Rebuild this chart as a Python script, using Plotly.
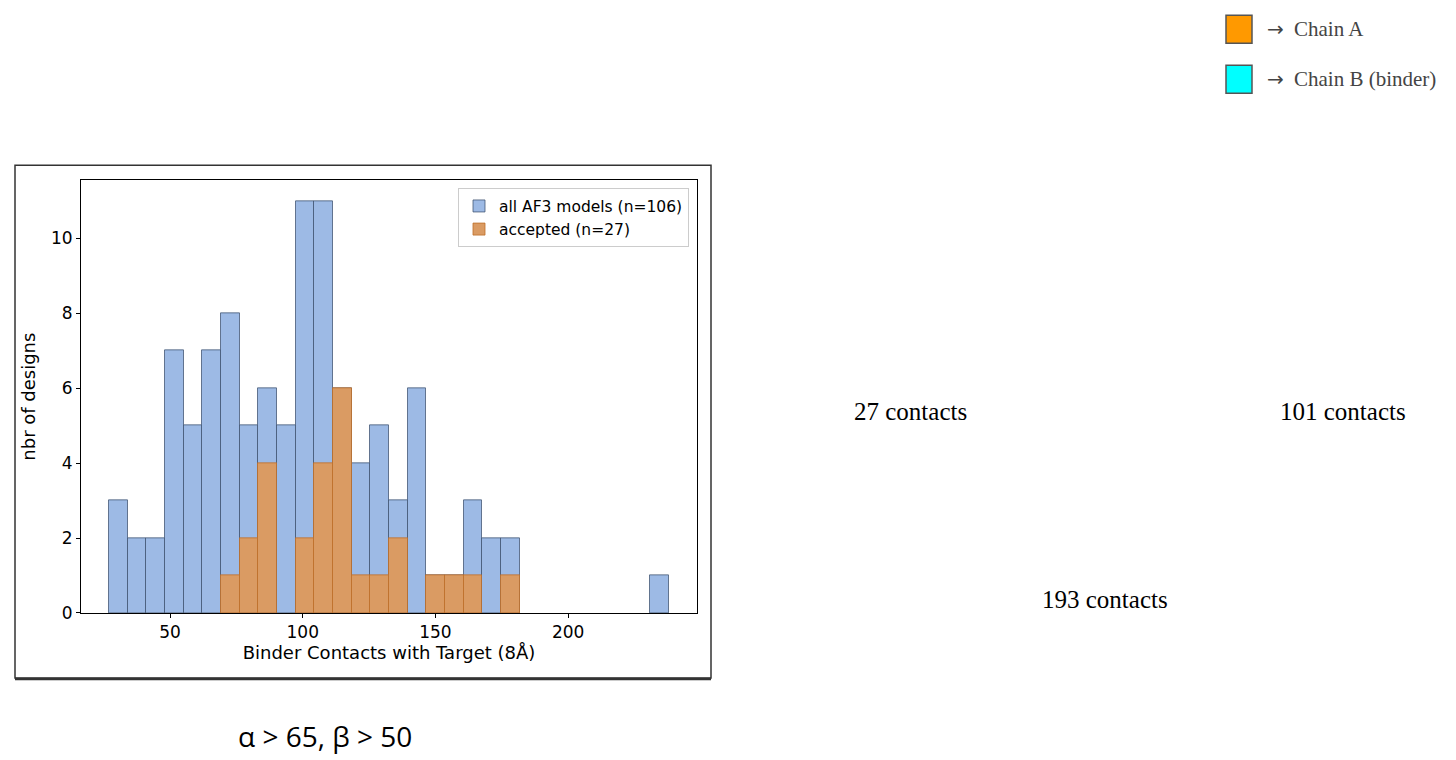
import plotly.graph_objects as go

# histogram of binder contacts (30 bins between min and max)
binStart = 27
binEnd = 238
allCounts = [3, 2, 2, 7, 5, 7, 8, 5, 6, 5, 11, 11, 6, 4, 5, 3, 6, 1, 1, 3, 2, 2, 0, 0, 0, 0, 0, 0, 0, 1]
acceptedCounts = [0, 0, 0, 0, 0, 0, 1, 2, 4, 0, 2, 4, 6, 1, 1, 2, 0, 1, 1, 1, 0, 1, 0, 0, 0, 0, 0, 0, 0, 0]
seriesNames = ['all AF3 models (n=106)', 'accepted (n=27)']
xTicks = [50, 100, 150, 200]
yTicks = [0, 2, 4, 6, 8, 10]
contactLabels = ['27 contacts', '193 contacts', '101 contacts']
chainLabels = ['Chain A', 'Chain B (binder)']
subtitle = 'α > 65, β > 50'

# page body keeps an 8px margin; the capture squeezes the page a little vertically
W, H = 1440, 762
OFF = 8
SY = 0.9855
binWidth = (binEnd - binStart) / len(allCounts)
centers = [binStart + binWidth * (i + 0.5) for i in range(len(allCounts))]

def px(x):
    return (x - OFF) / W

def py(y):
    return 1 - (y / SY - OFF) / H

def nonzero(counts):
    return [c if c > 0 else None for c in counts]

fig = go.Figure()
fig.add_trace(go.Bar(x=centers, y=nonzero(allCounts), width=binWidth, name=seriesNames[0],
                     marker=dict(color='#9DBAE5', line=dict(color='rgba(60,80,110,0.75)', width=1))))
fig.add_trace(go.Bar(x=centers, y=nonzero(acceptedCounts), width=binWidth, name=seriesNames[1],
                     marker=dict(color='#DA9B63', line=dict(color='rgba(190,110,40,0.8)', width=1))))

pad = (binEnd - binStart) * 0.05
fig.update_layout(
    width=W, height=H,
    margin=dict(l=0, r=0, t=0, b=0),
    paper_bgcolor='white', plot_bgcolor='white',
    barmode='overlay', bargap=0,
    font=dict(family='DejaVu Sans', color='black', size=17),
    xaxis=dict(domain=[px(81), px(697)], range=[binStart - pad, binEnd + pad],
               tickvals=xTicks, ticks='outside', ticklen=4, tickcolor='black',
               showline=True, linecolor='black', linewidth=1, mirror=True,
               showgrid=False, zeroline=False,
               title=dict(text='Binder Contacts with Target (8Å)', font=dict(size=18), standoff=4)),
    yaxis=dict(domain=[py(612), py(180)], range=[0, 11.55],
               tickvals=yTicks, ticks='outside', ticklen=4, tickcolor='black',
               showline=True, linecolor='black', linewidth=1, mirror=True,
               showgrid=False, zeroline=False,
               title=dict(text='nbr of designs', font=dict(size=18), standoff=10)),
    legend=dict(x=px(689), y=py(188), xanchor='right', yanchor='top',
                bordercolor='#cccccc', borderwidth=1, bgcolor='rgba(255,255,255,0.8)',
                font=dict(size=15.5), tracegroupgap=0),
    showlegend=True,
)

# outer figure frame
fig.add_shape(type='rect', xref='paper', yref='paper', x0=px(15), x1=px(711), y0=py(677), y1=py(165),
              line=dict(color='#333333', width=1.5))
fig.add_shape(type='line', xref='paper', yref='paper', x0=px(15), x1=px(711), y0=py(678), y1=py(678),
              line=dict(color='#333333', width=2.5))

fig.add_annotation(x=px(325), y=py(735), xref='paper', yref='paper', text=subtitle, showarrow=False,
                   xanchor='center', yanchor='middle',
                   font=dict(family='Open Sans', size=28, color='black'))

# contact labels beside the structures
labelPos = [(910, 411), (1105, 599), (1343, 411)]
for label, (lx, ly) in zip(contactLabels, labelPos):
    fig.add_annotation(x=px(lx), y=py(ly), xref='paper', yref='paper', text=label, showarrow=False,
                       xanchor='center', yanchor='middle',
                       font=dict(family='Liberation Serif', size=25, color='black'))

# chain colour key
chainColors = ['#FF9900', '#00FFFF']
for i, (label, col) in enumerate(zip(chainLabels, chainColors)):
    yc = 29 + 50 * i
    fig.add_shape(type='rect', xref='paper', yref='paper', x0=px(1226), x1=px(1252),
                  y0=py(yc + 14), y1=py(yc - 14), fillcolor=col, line=dict(color='#555555', width=1.5))
    fig.add_annotation(x=px(1265), y=py(yc), xref='paper', yref='paper', text='→', showarrow=False,
                       xanchor='left', yanchor='middle',
                       font=dict(family='DejaVu Sans', size=20, color='#444444'))
    fig.add_annotation(x=px(1292), y=py(yc), xref='paper', yref='paper', text=label, showarrow=False,
                       xanchor='left', yanchor='middle',
                       font=dict(family='Liberation Serif', size=21, color='#444444'))

fig.write_html("out.html")
